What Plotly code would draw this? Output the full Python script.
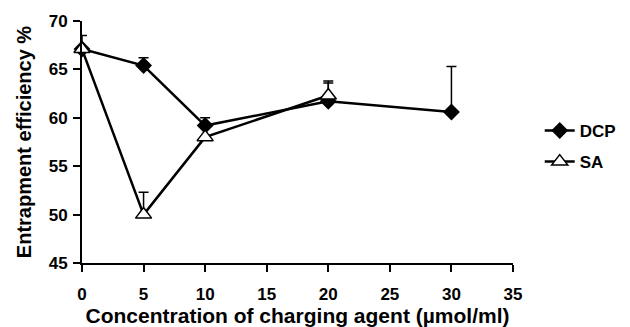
import plotly.graph_objects as go

dcp_x = [0, 5, 10, 20, 30]
dcp_y = [67.1, 65.4, 59.2, 61.7, 60.6]
dcp_err = [0.0, 0.8, 0.8, 1.9, 4.7]

sa_x = [0, 5, 10, 20]
sa_y = [67.1, 50.0, 58.0, 62.3]
sa_err = [1.4, 2.3, 0.0, 1.5]

xticks = [0, 5, 10, 15, 20, 25, 30, 35]
yticks = [45, 50, 55, 60, 65, 70]

font_family = "Liberation Sans, Arial, sans-serif"

fig = go.Figure()
fig.add_trace(go.Scatter(
    x=dcp_x, y=dcp_y, name="<b>DCP</b>", mode="lines+markers",
    line=dict(color="black", width=2.5),
    marker=dict(symbol="diamond", size=13, color="black"),
    error_y=dict(type="data", array=dcp_err, arrayminus=[0]*len(dcp_err), symmetric=False,
                 color="black", thickness=1.5, width=5),
    cliponaxis=False, legendgroup="a",
))
fig.add_trace(go.Scatter(
    x=sa_x, y=sa_y, name="<b>SA</b>", mode="lines+markers",
    line=dict(color="black", width=2.5),
    marker=dict(symbol="triangle-up", size=14, color="white", line=dict(color="black", width=1.5)),
    error_y=dict(type="data", array=sa_err, arrayminus=[0]*len(sa_err), symmetric=False,
                 color="black", thickness=1.5, width=5),
    cliponaxis=False, legendgroup="b",
))

fig.update_layout(
    width=630, height=327,
    margin=dict(l=82, r=117, t=21, b=64, autoexpand=False),
    paper_bgcolor="white", plot_bgcolor="white",
    font=dict(family=font_family, size=17, color="black"),
    showlegend=True,
    legend=dict(x=1.062, y=0.62, xanchor="left", yanchor="top",
                font=dict(size=17, family=font_family), tracegroupgap=6,
                itemwidth=30, bgcolor="rgba(0,0,0,0)"),
    xaxis=dict(range=[0, 35], tickvals=xticks, ticktext=[f"<b>{t}</b>" for t in xticks],
               showline=True, linecolor="black", linewidth=2, ticks="outside",
               ticklen=7, tickwidth=2, tickcolor="black", showgrid=False, zeroline=False,
               automargin=False, ticklabelstandoff=8,
               title=dict(text="<b>Concentration of charging agent (µmol/ml)</b>", standoff=5,
                          font=dict(size=21)),
               tickfont=dict(size=17)),
    yaxis=dict(range=[45, 70], tickvals=yticks, ticktext=[f"<b>{t}</b>" for t in yticks],
               showline=True, linecolor="black", linewidth=2, ticks="outside",
               ticklen=7, tickwidth=2, tickcolor="black", showgrid=False, zeroline=False,
               automargin=False, ticklabelstandoff=2,
               title=dict(text="<b>Entrapment efficiency %</b>", standoff=12, font=dict(size=20)),
               tickfont=dict(size=17)),
)

fig.write_html("out.html", config={"displayModeBar": False},
               post_script="document.body.style.margin='0';document.body.style.overflow='hidden';")
